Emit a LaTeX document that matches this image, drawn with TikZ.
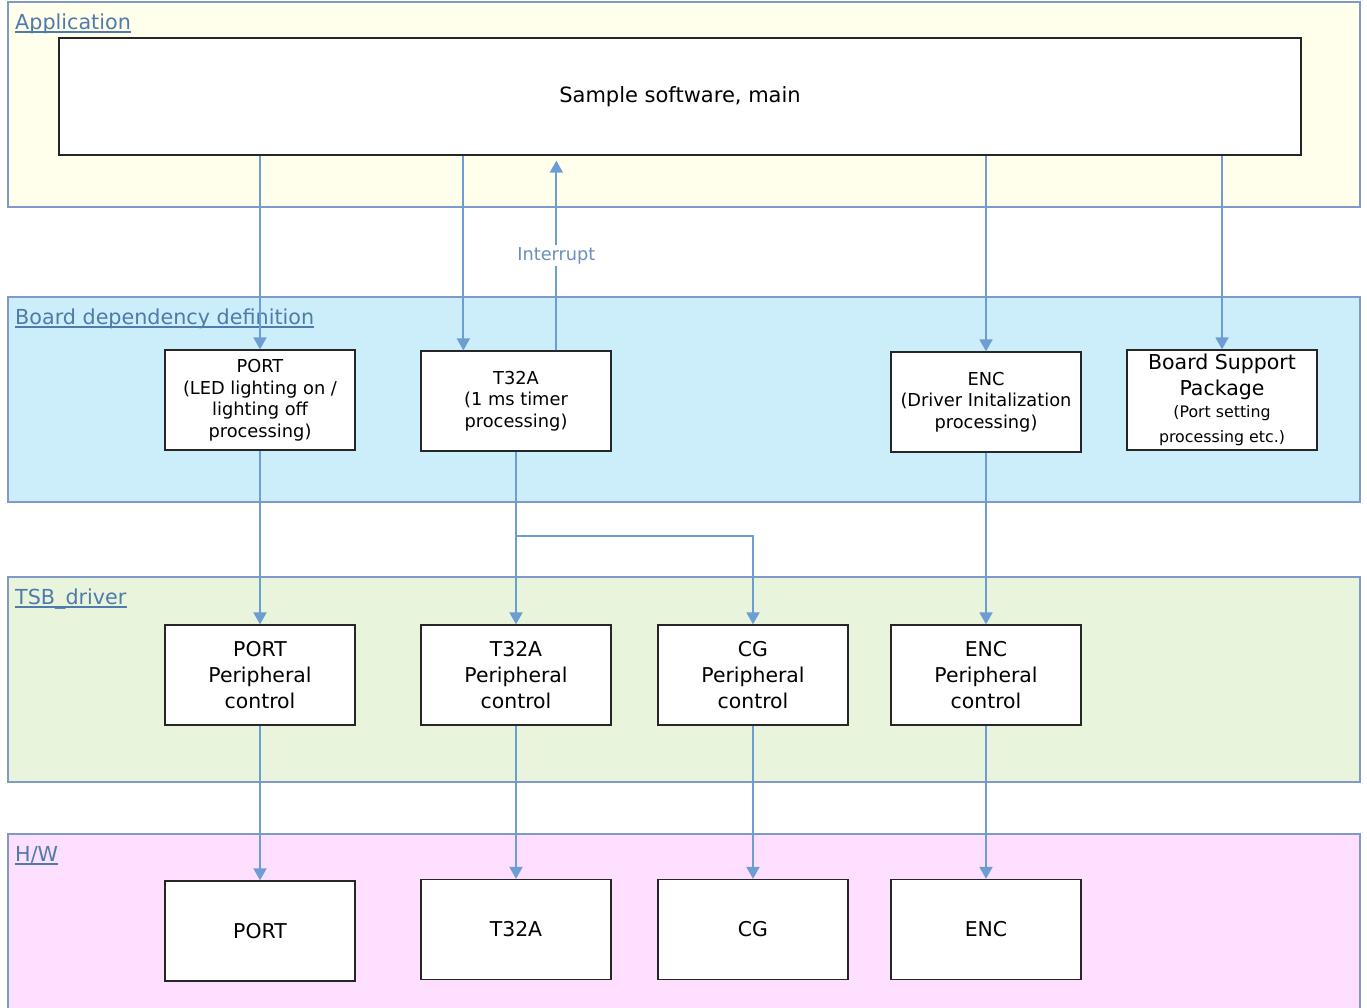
\documentclass[tikz,border=0pt]{standalone}
\usepackage{fontspec}
\setmainfont{DejaVu Sans}
\usetikzlibrary{arrows.meta}
\definecolor{appfill}{HTML}{FFFFEB}
\definecolor{brdfill}{HTML}{CCEEFA}
\definecolor{tsbfill}{HTML}{E9F4DD}
\definecolor{hwfill}{HTML}{FFDFFF}
\definecolor{layerline}{HTML}{7F9AC6}
\definecolor{arrowc}{HTML}{6C9DD3}
\definecolor{titlec}{HTML}{4F7BAA}
\definecolor{intc}{HTML}{6A8FBF}
\newcommand\bspbig{\fontsize{20.5}{26}\selectfont}
\newcommand\bspsmall{\fontsize{15.8}{23}\selectfont}
\begin{document}
\begin{tikzpicture}[x=1pt,y=-1pt,
  layer/.style={draw=layerline,line width=1.4pt},
  box/.style={draw=black!85,fill=white,line width=1.3pt,minimum width=190pt,minimum height=100pt,align=center,inner sep=0pt},
  bigtxt/.style={font=\fontsize{20.4}{26}\selectfont},
  smalltxt/.style={font=\fontsize{17.8}{21.5}\selectfont},
  ttl/.style={anchor=base west,inner sep=0pt,text=titlec,font=\fontsize{20.7}{24}\selectfont},
  ul/.style={draw=titlec,line width=1.2pt},
  arr/.style={draw=arrowc,line width=1.9pt,-{Triangle[width=13pt,length=12pt]}}]
\useasboundingbox (0,0) rectangle (1367,1007);
\clip (0,0) rectangle (1367,1007);
% layers
\path[layer,fill=appfill] (8,2) rectangle (1360,207);
\path[layer,fill=brdfill] (8,297) rectangle (1360,502);
\path[layer,fill=tsbfill] (8,577) rectangle (1360,782);
\path[layer,fill=hwfill] (8,834) rectangle (1360,1020);
% titles
\node[ttl] (tA) at (15,29) {Application};
\node[ttl] (tB) at (15,324) {Board dependency definition};
\node[ttl] (tC) at (15,604) {TSB\_driver};
\node[ttl] (tD) at (15,861) {H/W};
\foreach \t in {tA,tB,tC,tD}{
  \draw[ul] ([yshift=-3pt]\t.base west) -- ([yshift=-3pt]\t.base east);
}
% main
\node[box,minimum width=1242pt,minimum height=117pt,font=\fontsize{21}{26}\selectfont] (main) at (680,96.5) {Sample software, main};
% board nodes
\node[box,smalltxt] (bPORT) at (260,400) {PORT\\(LED lighting on /\\lighting off\\processing)};
\node[box,smalltxt] (bT32A) at (516,401) {T32A\\(1 ms timer\\processing)};
\node[box,smalltxt] (bENC) at (986,402) {ENC\\(Driver Initalization\\processing)};
\node[box,font=\bspbig] (bBSP) at (1222,400) {Board Support\\Package\\[-4pt]\bspsmall (Port setting\\[-1pt]\bspsmall processing etc.)};
% tsb nodes
\node[box,bigtxt] (tPORT) at (260,675) {PORT\\Peripheral\\control};
\node[box,bigtxt] (tT32A) at (516,675) {T32A\\Peripheral\\control};
\node[box,bigtxt] (tCG) at (753,675) {CG\\Peripheral\\control};
\node[box,bigtxt] (tENC) at (986,675) {ENC\\Peripheral\\control};
% hw nodes
\node[box,bigtxt] (hPORT) at (260,931) {PORT};
\node[box,bigtxt] (hT32A) at (516,929.5) {T32A};
\node[box,bigtxt] (hCG) at (753,929.5) {CG};
\node[box,bigtxt] (hENC) at (986,929.5) {ENC};
% arrows from main
\draw[arr] (main.south -| bPORT.north) -- (bPORT.north);
\draw[arr] ([xshift=43pt]bT32A.north west |- main.south) -- ([xshift=43pt]bT32A.north west);
\draw[arr] (main.south -| bENC.north) -- (bENC.north);
\draw[arr] (main.south -| bBSP.north) -- (bBSP.north);
% interrupt
\draw[arr] ([xshift=136pt]bT32A.north west) -- node[fill=white,inner sep=2pt,text=intc,font=\fontsize{17.7}{21}\selectfont,pos=0.5] (intr) {Interrupt} ([xshift=136pt,yshift=-5pt]bT32A.north west |- main.south);
% board to tsb
\coordinate (j) at (516,536);
\draw[arr] (bPORT.south) -- (tPORT.north);
\draw[arr] (bT32A.south) -- (tT32A.north);
\draw[arr] (j) -- (j -| tCG.north) -- (tCG.north);
\draw[arr] (bENC.south) -- (tENC.north);
% tsb to hw
\draw[arr] (tPORT.south) -- (hPORT.north);
\draw[arr] (tT32A.south) -- (hT32A.north);
\draw[arr] (tCG.south) -- (hCG.north);
\draw[arr] (tENC.south) -- (hENC.north);
\end{tikzpicture}
\end{document}
